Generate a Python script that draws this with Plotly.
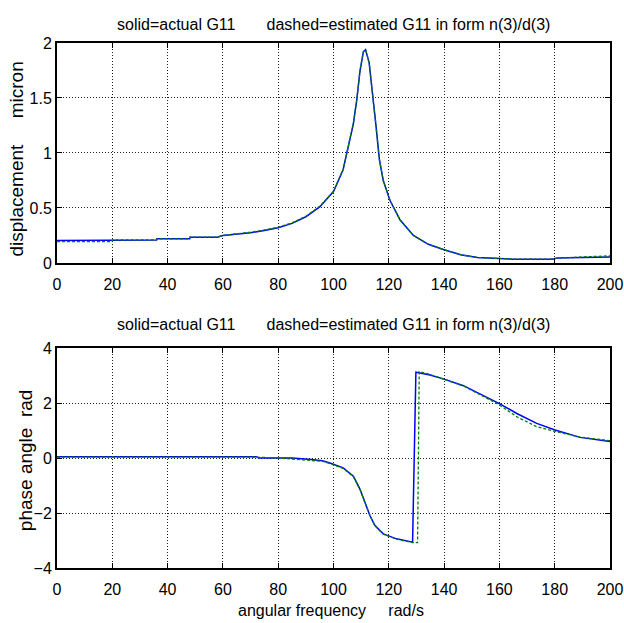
import plotly.graph_objects as go

# magnitude (displacement, micron)
freq_mag = [0, 19.9, 20, 36, 36.1, 48, 48.1, 58, 60, 65, 70, 75, 80, 85, 90, 95, 100, 103.5, 104.8,
            107.2, 108.4, 109.6, 110.8, 111.6, 112.9, 114.2, 115.4, 116.6, 118, 120.4, 124.1,
            128.9, 134.3, 140, 146, 152, 158, 165, 179, 181, 190, 200]
mag_actual = [0.205, 0.205, 0.21, 0.21, 0.22, 0.22, 0.235, 0.235, 0.25, 0.26, 0.275, 0.295, 0.32,
              0.36, 0.42, 0.51, 0.65, 0.85, 1.0, 1.27, 1.48, 1.75, 1.92, 1.94, 1.82, 1.54, 1.24,
              0.94, 0.75, 0.57, 0.39, 0.25, 0.17, 0.12, 0.075, 0.05, 0.04, 0.035, 0.035, 0.045,
              0.05, 0.055]
mag_est = [0.195, 0.195, 0.21, 0.21, 0.22, 0.22, 0.235, 0.235, 0.25, 0.262, 0.28, 0.3, 0.325,
           0.365, 0.425, 0.515, 0.65, 0.85, 1.0, 1.27, 1.48, 1.75, 1.92, 1.94, 1.82, 1.54, 1.24,
           0.94, 0.75, 0.57, 0.39, 0.25, 0.17, 0.12, 0.075, 0.05, 0.04, 0.035, 0.035, 0.045,
           0.055, 0.065]

# phase angle (rad)
freq_ph = [0, 72, 73, 85, 92, 96, 98.7, 103.5, 107.2, 109.6, 111.4, 113.2, 115, 118, 122.8,
           128.6, 129.8, 131, 134.9, 140, 147, 154.2, 160, 166.3, 173.5, 180.1, 189.2, 200]
ph_actual = [0.05, 0.05, 0.0, 0.0, -0.05, -0.1, -0.18, -0.36, -0.66, -1.14, -1.62, -2.1, -2.46,
             -2.76, -2.94, -3.06, 3.12, 3.1, 3.02, 2.87, 2.63, 2.27, 1.98, 1.62, 1.26, 1.02,
             0.75, 0.6]
freq_ph_est = [0, 72, 80, 88, 92, 96, 98.7, 103.5, 107.2, 109.6, 111.4, 113.2, 115, 118, 122.8,
               128.6, 130.4, 131, 134.9, 140, 147, 154.2, 160, 166.3, 173.5, 180.1, 189.2, 200]
ph_est = [0.03, 0.03, 0.0, -0.07, -0.08, -0.12, -0.2, -0.38, -0.68, -1.15, -1.63, -2.1, -2.47,
          -2.77, -2.95, -3.08, -3.08, 3.14, 3.04, 2.87, 2.62, 2.24, 1.93, 1.5, 1.14, 0.97,
          0.76, 0.63]

sp = "&nbsp;"
title_txt = "solid=actual G11" + sp * 7 + "dashed=estimated G11 in form n(3)/d(3)"
font = dict(family="Liberation Sans, Arial, sans-serif", color="black")

fig = go.Figure()
fig.add_trace(go.Scatter(x=freq_mag, y=mag_actual, mode="lines",
                         line=dict(color="#0000ff", width=1.5), xaxis="x", yaxis="y"))
fig.add_trace(go.Scatter(x=freq_mag, y=mag_est, mode="lines",
                         line=dict(color="#008000", width=1.3, dash="3px,2px"), xaxis="x", yaxis="y"))
fig.add_trace(go.Scatter(x=freq_ph, y=ph_actual, mode="lines",
                         line=dict(color="#0000ff", width=1.5), xaxis="x2", yaxis="y2"))
fig.add_trace(go.Scatter(x=freq_ph_est, y=ph_est, mode="lines",
                         line=dict(color="#008000", width=1.3, dash="3px,2px"), xaxis="x2", yaxis="y2"))

ax = dict(showline=True, linecolor="black", linewidth=2, mirror="ticks", ticks="inside",
          ticklen=5, tickcolor="black", showgrid=True, gridcolor="#222", griddash="1px,2px",
          gridwidth=1, zeroline=False, automargin=False, tickfont=dict(size=16, **font))
xax = dict(ax, ticklabelstandoff=6)

fig.update_layout(
    width=624, height=623,
    paper_bgcolor="white", plot_bgcolor="white",
    showlegend=False,
    margin=dict(l=57, r=14, t=43, b=55),
    font=font,
    xaxis=dict(xax, domain=[0, 1], range=[0, 200], dtick=20, anchor="y"),
    yaxis=dict(ax, domain=[0.581, 1], range=[0, 2], dtick=0.5, anchor="x"),
    xaxis2=dict(xax, domain=[0, 1], range=[0, 200], dtick=20, anchor="y2"),
    yaxis2=dict(ax, domain=[0, 0.419], range=[-4, 4], dtick=2, anchor="x2"),
    annotations=[
        dict(text=title_txt, xref="x domain", yref="y domain", x=0.5, y=1.082,
             showarrow=False, font=dict(size=16, **font), yanchor="middle"),
        dict(text=title_txt, xref="x2 domain", yref="y2 domain", x=0.5, y=1.105,
             showarrow=False, font=dict(size=16, **font), yanchor="middle"),
        dict(text="displacement" + sp * 5 + "micron", xref="paper", yref="y domain",
             x=-0.0723, y=0.47, textangle=-90, showarrow=False,
             font=dict(size=19, **font), xanchor="center", yanchor="middle"),
        dict(text="phase angle" + sp * 2 + "rad", xref="paper", yref="y2 domain",
             x=-0.058, y=0.49, textangle=-90, showarrow=False,
             font=dict(size=19, **font), xanchor="center", yanchor="middle"),
        dict(text="angular frequency" + sp * 5 + "rad/s", xref="paper", yref="y2 domain",
             x=0.4946, y=-0.195, showarrow=False,
             font=dict(size=16, **font), xanchor="center", yanchor="middle"),
    ],
)

# drop the default page margin so the figure sits at the window's corner
fig.write_html("out.html", config={"displayModeBar": False},
               post_script="document.body.style.margin='0';")
